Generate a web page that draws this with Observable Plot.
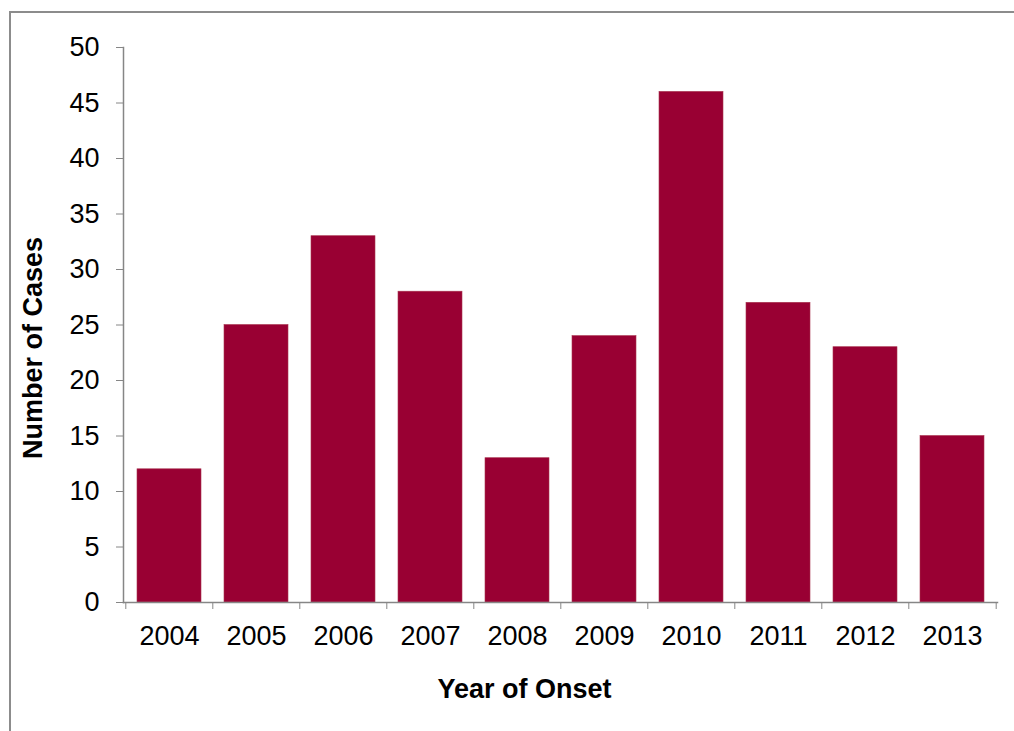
<!DOCTYPE html>
<html>
<head>
<meta charset="utf-8">
<script src="https://cdn.jsdelivr.net/npm/d3@7"></script>
<script src="https://cdn.jsdelivr.net/npm/@observablehq/plot@0.6"></script>
<style>
  html, body { margin: 0; padding: 0; background: #fff; }
  #wrap { position: relative; width: 1014px; height: 731px; overflow: hidden; }
  #border { position: absolute; left: 9px; top: 11px; width: 1100px; height: 800px;
            border-left: 2px solid #8c8c8c; border-top: 2px solid #8c8c8c; box-sizing: border-box; }
  #chart { position: absolute; left: 0; top: 0; }
</style>
</head>
<body>
<div id="wrap"><div id="border"></div><div id="chart"></div></div>
<script>
const years = ["2004","2005","2006","2007","2008","2009","2010","2011","2012","2013"];
const cases = [12, 25, 33, 28, 13, 24, 46, 27, 23, 15];
const yTicks = [0, 5, 10, 15, 20, 25, 30, 35, 40, 45, 50];
const xTitle = "Year of Onset";
const yTitle = "Number of Cases";

const data = years.map((y, i) => ({year: y, cases: cases[i]}));

const W = 1014, H = 731;
const mL = 123, mR = 17, mT = 47, mB = 129;
const step = (W - mL - mR) / years.length;
const axisColor = "#868686";
const font = "'Liberation Sans', Arial, sans-serif";

const chart = Plot.plot({
  width: W,
  height: H,
  marginLeft: mL,
  marginRight: mR,
  marginTop: mT,
  marginBottom: mB,
  style: { fontFamily: font, fontSize: "27px", color: "#000", background: "transparent", overflow: "visible" },
  x: { domain: years, paddingInner: 0.27, paddingOuter: 0.135 },
  y: { domain: [0, 50] },
  marks: [
    Plot.barY(data, { x: "year", y: "cases", fill: "#990033", stroke: "#a8344f", strokeWidth: 0.6 }),
    Plot.frame({ anchor: "left", stroke: axisColor, strokeWidth: 1.5, strokeOpacity: 1 }),
    Plot.frame({ anchor: "bottom", stroke: axisColor, strokeWidth: 1.5, strokeOpacity: 1 }),
    Plot.axisY({ ticks: yTicks, tickSize: 7, tickPadding: 17, stroke: axisColor, strokeOpacity: 1, label: null,
                 fontSize: 27, tickFormat: d => String(d) }),
    Plot.axisX({ tickSize: 0, tickPadding: 23, label: null, fontSize: 27 }),
    Plot.axisX({ tickSize: 7, text: null, label: null, dx: -step / 2, stroke: axisColor, strokeOpacity: 1 }),
    Plot.axisX({ ticks: [years[years.length - 1]], tickSize: 7, text: null, label: null, dx: step / 2, stroke: axisColor, strokeOpacity: 1 }),
    Plot.text([xTitle], { frameAnchor: "bottom", dx: -36, dy: 95, fontWeight: "bold", fontSize: 27, fill: "#000" }),
    Plot.text([yTitle], { frameAnchor: "left", rotate: -90, dx: -90, dy: 134, fontWeight: "bold", fontSize: 27, fill: "#000" })
  ]
});
document.getElementById("chart").appendChild(chart);
</script>
</body>
</html>
